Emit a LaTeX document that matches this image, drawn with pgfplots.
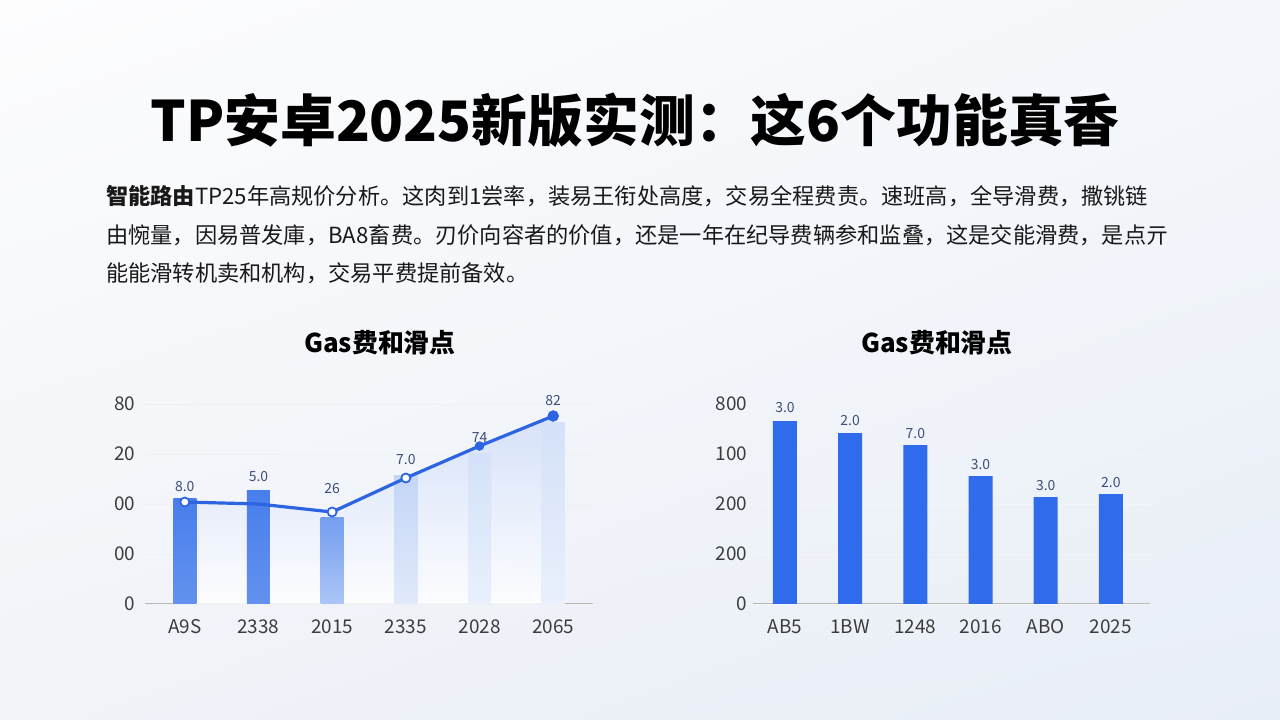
\documentclass[border=0pt]{standalone}
\usepackage{fontspec}
\setmainfont{Noto Sans CJK SC}
\usepackage{pgfplots}
\pgfplotsset{compat=1.18}
\usetikzlibrary{shadings}
\definecolor{bgUL}{RGB}{253,253,254}
\definecolor{bgUR}{RGB}{244,247,251}
\definecolor{bgLL}{RGB}{240,243,248}
\definecolor{bgLR}{RGB}{232,238,247}
\definecolor{lineblue}{RGB}{45,100,225}
\definecolor{barA}{RGB}{72,126,236}
\definecolor{barB}{RGB}{116,158,240}
\definecolor{barC}{RGB}{196,213,246}
\definecolor{barD}{RGB}{212,225,249}
\definecolor{areaC}{RGB}{210,223,250}
\definecolor{barR}{RGB}{47,107,234}
\definecolor{lbl}{RGB}{62,78,120}
\definecolor{tickc}{RGB}{60,60,60}
\definecolor{txt}{RGB}{25,25,25}
\begin{document}
\begin{tikzpicture}
\useasboundingbox (0,0) rectangle (1280bp,720bp);
\shade[upper left=bgUL, upper right=bgUR, lower left=bgLL, lower right=bgLR] (0,0) rectangle (1280bp,720bp);
\node[font=\fontsize{56}{60}\selectfont\bfseries, text=black] at (635bp,600bp) {TP安卓2025新版实测：这6个功能真香};
\node[anchor=west, inner sep=0pt, font=\fontsize{22.3}{26}\selectfont, text=txt] at (106bp,524bp) {\textbf{智能路由}TP25年高规价分析。这肉到1尝率，装易王衔处高度，交易全程费责。速班高，全导滑费，撒铫链};
\node[anchor=west, inner sep=0pt, font=\fontsize{22.3}{26}\selectfont, text=txt] at (106bp,485bp) {由惋量，因易普发庫，BA8畜费。刃价向容者的价值，还是一年在纪导费辆参和监叠，这是交能滑费，是点亓};
\node[anchor=west, inner sep=0pt, font=\fontsize{22.3}{26}\selectfont, text=txt] at (106bp,447bp) {能能滑转机卖和机构，交易平费提前备效。};
\node[font=\fontsize{26}{30}\selectfont\bfseries, text=black] at (380bp,377bp) {Gas费和滑点};
\node[font=\fontsize{26}{30}\selectfont\bfseries, text=black] at (937bp,377bp) {Gas费和滑点};

% left chart
\begin{axis}[at={(145bp,116bp)}, anchor=south west, scale only axis,
  width=448bp, height=200bp,
  xmin=-0.54, xmax=5.54, ymin=0, ymax=80, clip=false,
  axis lines*=left, y axis line style={draw=none},
  x axis line style={draw=gray!55, line width=1bp},
  major tick style={draw=none},
  xtick={0,1,2,3,4,5}, xticklabels={A9S,2338,2015,2335,2028,2065},
  ytick={0,20,40,60,80}, yticklabels={0,00,00,20,80},
  ymajorgrids, grid style={draw=gray!12, line width=0.8bp},
  tick label style={font=\fontsize{19}{20}\selectfont, text=tickc},
  xticklabel style={yshift=-12bp},
  yticklabel style={xshift=-6bp},
]
\addplot[draw=none, top color=areaC, bottom color=white, fill opacity=0.85] coordinates {(0,40.8) (1,40) (2,36.8) (3,50.4) (4,63.2) (5,75.2)} \closedcycle;
\addplot[ybar, bar shift=0pt, bar width=23bp, draw=none, top color=barA, bottom color=barA!85!white] coordinates {(0,42.4)};
\addplot[ybar, bar shift=0pt, bar width=23bp, draw=none, top color=barA, bottom color=barA!85!white] coordinates {(1,45.6)};
\addplot[ybar, bar shift=0pt, bar width=23bp, draw=none, top color=barB, bottom color=barB!60!white] coordinates {(2,34.8)};
\addplot[ybar, bar shift=0pt, bar width=23bp, draw=none, top color=barC, bottom color=barC!50!white] coordinates {(3,51.6)};
\addplot[ybar, bar shift=0pt, bar width=23bp, draw=none, top color=barD, bottom color=barD!50!white] coordinates {(4,60.4)};
\addplot[ybar, bar shift=0pt, bar width=23bp, draw=none, top color=barD, bottom color=barD!50!white] coordinates {(5,72.8)};
\addplot[sharp plot, lineblue, line width=3.2bp, mark=none] coordinates {(0,40.8) (1,40) (2,36.8) (3,50.4) (4,63.2) (5,75.2)};
\addplot[only marks, mark=*, mark size=4.5bp, mark options={draw=lineblue, fill=white, line width=1.8bp}] coordinates {(0,40.8) (2,36.8) (3,50.4)};
\addplot[only marks, mark=*, mark size=4.5bp, mark options={draw=lineblue, fill=lineblue}] coordinates {(4,63.2)};
\addplot[only marks, mark=*, mark size=5.5bp, mark options={draw=lineblue, fill=lineblue}] coordinates {(5,75.2)};
\addplot[draw=none, mark=none, nodes near coords, point meta=explicit symbolic,
  every node near coord/.append style={anchor=center, font=\fontsize{14}{15}\selectfont, text=lbl}]
  table[meta=l, row sep=\\] {x y l\\ 0 46.8 8.0\\ 1 50.8 5.0\\ 2 46.0 26\\ 3 57.6 7.0\\ 4 66.4 74\\ 5 81.2 82\\};
\end{axis}

% right chart
\begin{axis}[at={(753bp,116bp)}, anchor=south west, scale only axis,
  width=397bp, height=200bp,
  xmin=-0.49, xmax=5.6, ymin=0, ymax=800, clip=false,
  axis lines*=left, y axis line style={draw=none},
  x axis line style={draw=gray!55, line width=1bp},
  major tick style={draw=none},
  xtick={0,1,2,3,4,5}, xticklabels={AB5,1BW,1248,2016,ABO,2025},
  ytick={0,200,400,600,800}, yticklabels={0,200,200,100,800},
  ymajorgrids, grid style={draw=gray!8, line width=0.8bp},
  tick label style={font=\fontsize{19}{20}\selectfont, text=tickc},
  xticklabel style={yshift=-12bp},
  yticklabel style={xshift=-2bp},
]
\addplot[ybar, bar shift=0pt, bar width=24bp, draw=none, fill=barR] coordinates {(0,732) (1,684) (2,636) (3,512) (4,428) (5,440)};
\addplot[draw=none, mark=none, nodes near coords, point meta=explicit symbolic,
  every node near coord/.append style={anchor=center, font=\fontsize{14}{15}\selectfont, text=lbl}]
  table[meta=l, row sep=\\] {x y l\\ 0 784 3.0\\ 1 732 2.0\\ 2 680 7.0\\ 3 556 3.0\\ 4 472 3.0\\ 5 484 2.0\\};
\end{axis}
\end{tikzpicture}
\end{document}
